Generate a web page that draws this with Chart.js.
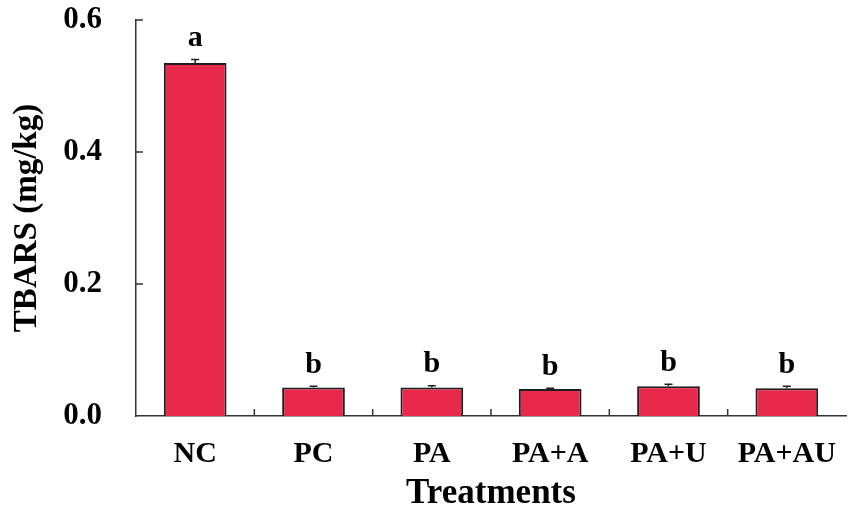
<!DOCTYPE html>
<html>
<head>
<meta charset="utf-8">
<script src="https://cdn.jsdelivr.net/npm/chart.js@4"></script>
<style>
  html, body { margin: 0; padding: 0; background: #fff; }
  #wrap { width: 849px; height: 519px; }
</style>
</head>
<body>
<div id="wrap"><canvas id="tbarsChart"></canvas></div>
<script>
var treatments = ['NC', 'PC', 'PA', 'PA+A', 'PA+U', 'PA+AU'];
var tbars = [0.535, 0.043, 0.043, 0.041, 0.045, 0.042];
var tbarsErr = [0.005, 0.002, 0.003, 0.001, 0.003, 0.003];
var letters = ['a', 'b', 'b', 'b', 'b', 'b'];
var yTicks = [0.0, 0.2, 0.4, 0.6];

var serif = '"Liberation Serif", "Times New Roman", serif';

// error bars (upper only) + significance letters
var errorPlugin = {
  id: 'errorBars',
  afterDatasetsDraw: function(chart) {
    var ctx = chart.ctx;
    var meta = chart.getDatasetMeta(0);
    var y = chart.scales.y;
    ctx.save();
    meta.data.forEach(function(bar, i) {
      var top = y.getPixelForValue(tbars[i] + tbarsErr[i]);
      var base = y.getPixelForValue(tbars[i]);
      ctx.strokeStyle = '#222';
      ctx.lineWidth = 1.5;
      ctx.beginPath();
      ctx.moveTo(bar.x, base);
      ctx.lineTo(bar.x, top);
      ctx.moveTo(bar.x - 4, top);
      ctx.lineTo(bar.x + 4, top);
      ctx.stroke();
      ctx.fillStyle = '#000';
      ctx.font = 'bold 30px ' + serif;
      ctx.textAlign = 'center';
      ctx.textBaseline = 'bottom';
      ctx.fillText(letters[i], bar.x, top - 6);
    });
    ctx.restore();
  }
};

// ticks pointing into the plot
var innerTicks = {
  id: 'innerTicks',
  afterDraw: function(chart) {
    var ctx = chart.ctx;
    var x = chart.scales.x, y = chart.scales.y;
    var a = chart.chartArea;
    ctx.save();
    ctx.strokeStyle = '#333';
    ctx.lineWidth = 1.5;
    ctx.beginPath();
    yTicks.forEach(function(v) {
      if (v === 0) return;
      var py = y.getPixelForValue(v);
      ctx.moveTo(a.left, py);
      ctx.lineTo(a.left + 7, py);
    });
    for (var i = 1; i < treatments.length; i++) {
      var px = (x.getPixelForValue(i - 1) + x.getPixelForValue(i)) / 2;
      ctx.moveTo(px, a.bottom);
      ctx.lineTo(px, a.bottom - 7);
    }
    ctx.stroke();
    ctx.restore();
  }
};

var chart = new Chart(document.getElementById('tbarsChart').getContext('2d'), {
  type: 'bar',
  data: {
    labels: treatments,
    datasets: [{
      label: 'TBARS',
      data: tbars,
      backgroundColor: '#E8294C',
      borderColor: '#1e1e1e',
      borderWidth: 2,
      borderSkipped: 'bottom',
      categoryPercentage: 1.0,
      barPercentage: 0.53
    }]
  },
  options: {
    responsive: true,
    maintainAspectRatio: false,
    animation: false,
    layout: { padding: { top: 20, right: 3, left: 0, bottom: 0 } },
    plugins: {
      legend: { display: false },
      tooltip: { enabled: false }
    },
    scales: {
      x: {
        grid: { display: false, drawTicks: false },
        border: { display: true, color: '#333', width: 1.5 },
        ticks: {
          color: '#000',
          padding: 20,
          font: { family: serif, size: 30, weight: 'bold' }
        },
        title: {
          display: true,
          text: 'Treatments',
          color: '#000',
          padding: { top: 0, bottom: 4 },
          font: { family: serif, size: 35, weight: 'bold' }
        },
        afterFit: function(scale) {
          scale.height = 103;
          scale.paddingLeft = 0;
          scale.paddingRight = 0;
        }
      },
      y: {
        min: 0,
        max: 0.6,
        afterBuildTicks: function(scale) {
          scale.ticks = yTicks.map(function(v) { return { value: v }; });
        },
        grid: { display: false, drawTicks: false },
        border: { display: true, color: '#333', width: 1.5 },
        ticks: {
          color: '#000',
          padding: 34,
          font: { family: serif, size: 31, weight: 'bold' },
          callback: function(v) { return Number(v).toFixed(1); }
        },
        title: {
          display: true,
          text: 'TBARS (mg/kg)',
          color: '#000',
          padding: { top: 8, bottom: 0 },
          font: { family: serif, size: 33, weight: 'bold' }
        },
        afterFit: function(scale) {
          scale.width = 136;
          scale.paddingTop = 0;
          scale.paddingBottom = 0;
        }
      }
    }
  },
  plugins: [errorPlugin, innerTicks]
});
</script>
</body>
</html>
